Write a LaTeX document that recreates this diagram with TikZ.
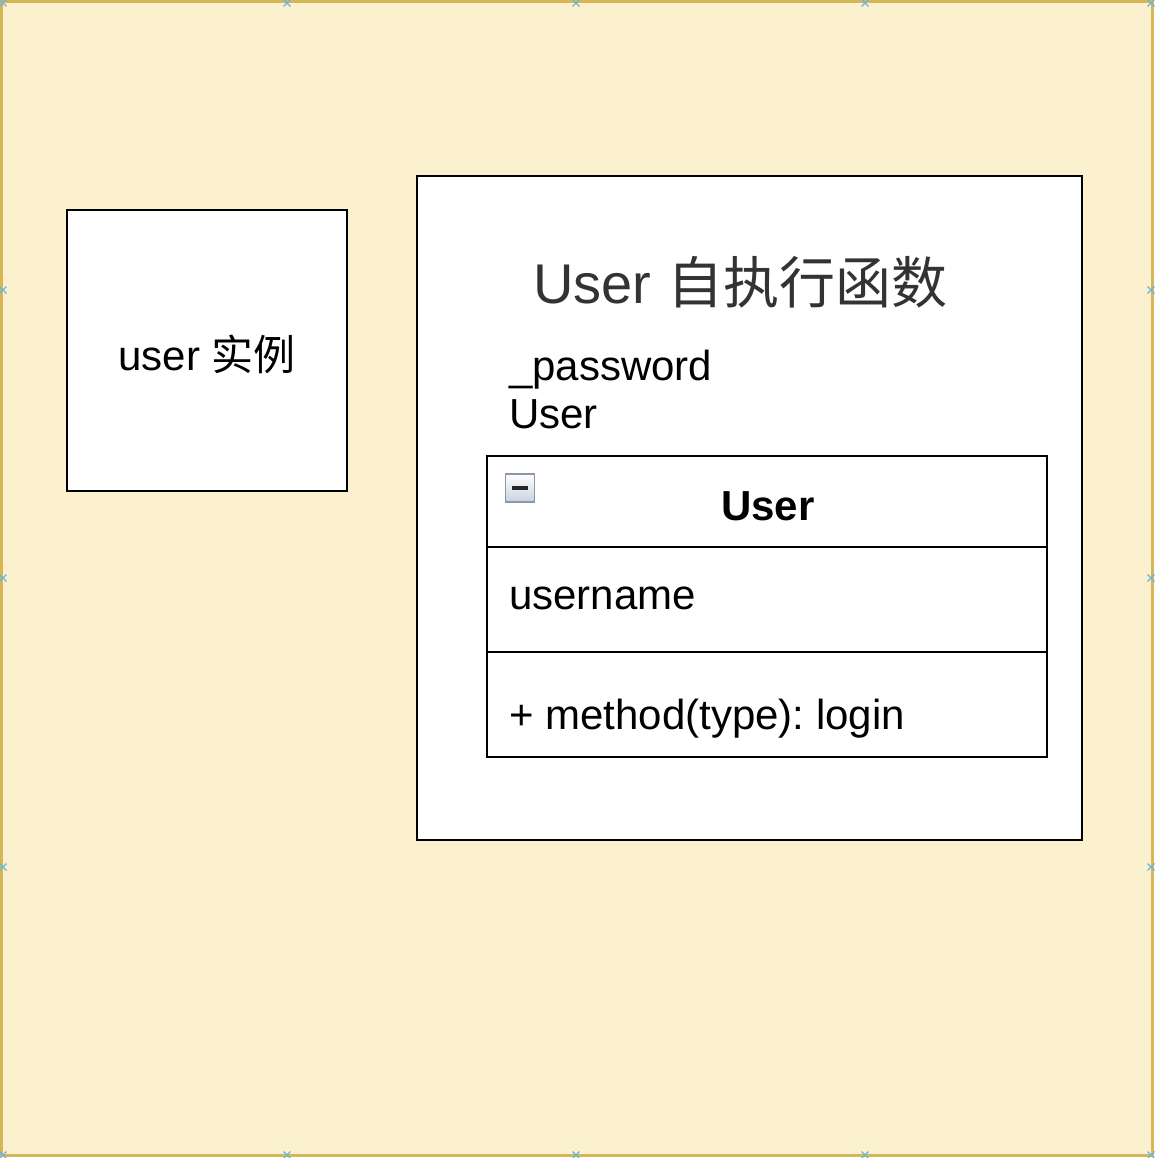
\documentclass[tikz,border=0pt]{standalone}
\usepackage{fontspec}
\setmainfont{Liberation Sans}
\newfontfamily\cjk{Noto Sans CJK SC}
\definecolor{bgfill}{HTML}{FCF1CE}
\definecolor{bgline}{HTML}{D6B656}
\definecolor{handle}{HTML}{6CB4E0}
\definecolor{titlegray}{HTML}{333333}
\definecolor{iconline}{HTML}{8A97A8}
\definecolor{iconbot}{HTML}{C9D2DE}
\frenchspacing
\begin{document}
\begin{tikzpicture}[x=1pt,y=-1pt,
  boxshape/.style={draw=black,fill=white,line width=2.7pt,inner sep=0pt,rectangle},
  lbl/.style={inner sep=0pt,anchor=base west,font=\fontsize{42}{50}\selectfont},
  handlemark/.style={draw=handle,line width=1.3pt}]
\useasboundingbox (0,0) rectangle (1154,1158);
% background
\node[draw=bgline,fill=bgfill,line width=2.5pt,inner sep=0pt,minimum width=1151,minimum height=1154] (bg) at (577,578.5) {};
% selection handles
\foreach \hx/\hy in {287/3,576/3,865/3,3/290,3/578,3/867,1151/290,1151/578,1151/867,287/1155,576/1155,865/1155,1151/1155,3/3,1151/3,3/1155}{
  \draw[handlemark] (\hx-3.5,\hy-3.5) -- (\hx+3.5,\hy+3.5) (\hx-3.5,\hy+3.5) -- (\hx+3.5,\hy-3.5);
}
% left box
\node[boxshape,minimum width=280,minimum height=281] (inst) at (207,350.5) {};
\node[inner sep=0pt,anchor=base,font=\fontsize{42}{50}\selectfont] (instlbl) at (207,370) {user {\cjk 实例}};
% big box
\node[boxshape,minimum width=665,minimum height=664] (iife) at (749.5,508) {};
\node[inner sep=0pt,anchor=base west,text=titlegray,font=\fontsize{56}{64}\selectfont] (title) at (533,303) {User {\cjk 自执行函数}};
\node[lbl] (pw) at (509,380) {\_password};
\node[lbl] (usr) at (509,428) {User};
% UML class
\node[boxshape,minimum width=560,minimum height=301] (cls) at (767,606.5) {};
\coordinate (s1l) at (487,547); \coordinate (s1r) at (1047,547);
\coordinate (s2l) at (487,652); \coordinate (s2r) at (1047,652);
\draw[line width=2.7pt] (s1l) -- (s1r);
\draw[line width=2.7pt] (s2l) -- (s2r);
\node[inner sep=0pt,anchor=base,font=\fontsize{42}{50}\selectfont\bfseries] (clsname) at (768,520) {User};
\node[lbl] (attr) at (509,609) {username};
\node[lbl] (meth) at (509,729) {+ method(type): login};
% collapse icon
\node[draw=iconline,line width=1.2pt,inner sep=0pt,minimum width=29,minimum height=28,top color=white,bottom color=iconbot] (icon) at (520,488) {};
\draw[line width=3.5pt,black!85] ([xshift=-8]icon.center) -- ([xshift=8]icon.center);
\end{tikzpicture}
\end{document}
